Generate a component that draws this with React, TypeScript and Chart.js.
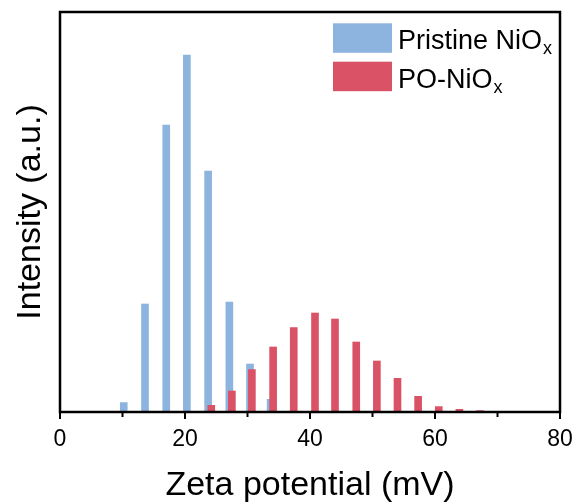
import { useEffect, useRef } from "react";
import { Chart, registerables } from "chart.js";

Chart.register(...registerables);

// ---- data ----
const pristineZeta = [10.2, 13.6, 17.0, 20.3, 23.7, 27.1, 30.4, 33.7];
const pristineIntensity = [9.4, 108, 287, 357, 241, 110, 48, 12.7];
const poZeta = [24.2, 27.5, 30.7, 34.1, 37.4, 40.8, 44.0, 47.4, 50.7, 54.0, 57.3, 60.6, 63.9, 67.2];
const poIntensity = [6.7, 21, 42.4, 65, 84.4, 99, 93, 70, 51, 33.7, 15.7, 5.4, 2.7, 1.4];
const xMajorTicks = [0, 20, 40, 60, 80];
const xMinorTicks = [10, 30, 50, 70];
const seriesNames = ["Pristine NiO", "PO-NiO"];
const seriesSubs = ["x", "x"];
const seriesColors = ["#8DB4DE", "#DA5266"];
const xTitle = "Zeta potential (mV)";
const yTitle = "Intensity (a.u.)";

const FONT = "'Liberation Sans', Arial, Helvetica, sans-serif";

const decorPlugin = {
  id: "decor",
  afterDraw(chart: any) {
    const { ctx, chartArea } = chart;
    const xs = chart.scales.x;
    const { left, right, top, bottom } = chartArea;
    ctx.save();
    // frame
    ctx.strokeStyle = "#000";
    ctx.lineWidth = 2.5;
    ctx.strokeRect(left, top, right - left, bottom - top);
    // ticks
    ctx.lineWidth = 2;
    for (const v of xMajorTicks) {
      const px = xs.getPixelForValue(v);
      ctx.beginPath();
      ctx.moveTo(px, bottom);
      ctx.lineTo(px, bottom + 7);
      ctx.stroke();
    }
    for (const v of xMinorTicks) {
      const px = xs.getPixelForValue(v);
      ctx.beginPath();
      ctx.moveTo(px, bottom);
      ctx.lineTo(px, bottom + 5);
      ctx.stroke();
    }
    // tick labels
    ctx.fillStyle = "#000";
    ctx.font = `23px ${FONT}`;
    ctx.textAlign = "center";
    ctx.textBaseline = "alphabetic";
    for (const v of xMajorTicks) {
      ctx.fillText(String(v), xs.getPixelForValue(v), 446);
    }
    // x title
    ctx.font = `34px ${FONT}`;
    ctx.fillText(xTitle, (left + right) / 2, 495);
    // y title
    ctx.save();
    ctx.translate(40, (top + bottom) / 2);
    ctx.rotate(-Math.PI / 2);
    ctx.fillText(yTitle, 0, 0);
    ctx.restore();
    // legend
    const boxX = 333;
    const boxW = 59;
    const boxH = 29.5;
    const boxYs = [23.3, 61.7];
    const baselines = [49, 87.5];
    ctx.textAlign = "left";
    for (let i = 0; i < seriesNames.length; i++) {
      ctx.fillStyle = seriesColors[i];
      ctx.fillRect(boxX, boxYs[i], boxW, boxH);
      ctx.fillStyle = "#000";
      ctx.font = `27px ${FONT}`;
      ctx.fillText(seriesNames[i], 398, baselines[i]);
      const w = ctx.measureText(seriesNames[i]).width;
      ctx.font = `18px ${FONT}`;
      ctx.fillText(seriesSubs[i], 398 + w + 1, baselines[i] + 5);
    }
    ctx.restore();
  },
};

export default function App() {
  const ref = useRef<HTMLCanvasElement | null>(null);
  useEffect(() => {
    if (!ref.current) return;
    const chart = new Chart(ref.current, {
      type: "bar",
      data: {
        datasets: [
          {
            label: seriesNames[0] + seriesSubs[0],
            data: pristineZeta.map((x, i) => ({ x, y: pristineIntensity[i] })),
            backgroundColor: seriesColors[0],
            borderWidth: 0,
            barThickness: 7,
            grouped: false,
            order: 1,
          } as any,
          {
            label: seriesNames[1] + seriesSubs[1],
            data: poZeta.map((x, i) => ({ x, y: poIntensity[i] })),
            backgroundColor: seriesColors[1],
            borderWidth: 0,
            barThickness: 7,
            grouped: false,
            order: 0,
          } as any,
        ],
      },
      options: {
        responsive: false,
        animation: false,
        devicePixelRatio: 1,
        layout: { padding: { left: 60, right: 16, top: 12, bottom: 92 } },
        plugins: { legend: { display: false }, tooltip: { enabled: false } },
        scales: {
          x: { type: "linear", min: 0, max: 80, offset: false, display: false },
          y: { type: "linear", min: 0, max: 400, display: false },
        },
      },
      plugins: [decorPlugin],
    });
    return () => chart.destroy();
  }, []);
  return (
    <div style={{ position: "absolute", left: 0, top: 0, width: 576, height: 504, background: "#fff" }}>
      <canvas ref={ref} width={576} height={504} style={{ display: "block" }} />
    </div>
  );
}
